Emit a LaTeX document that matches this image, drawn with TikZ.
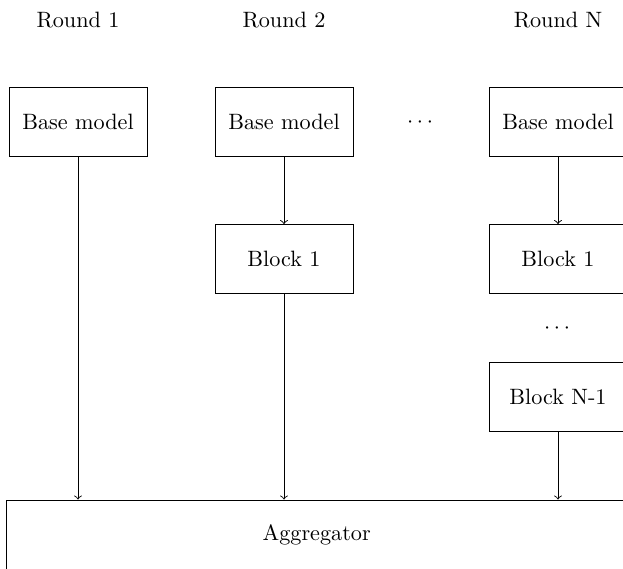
\documentclass[tikz,border=0pt]{standalone}
\begin{document}
\begin{tikzpicture}[x=0.4505pt, y=-0.4505pt,
  box/.style={draw, line width=0.4pt, minimum width=62.2pt, minimum height=31.1pt, inner sep=0pt},
  aggbox/.style={draw, line width=0.4pt, minimum width=279.2pt, minimum height=31.6pt, inner sep=0pt},
  lbl/.style={inner sep=0pt},
  flow/.style={->, line width=0.4pt}]
  \useasboundingbox (0,0) rectangle (623,568);

  % column headings
  \node[lbl] (r1) at (78,19.6) {Round 1};
  \node[lbl] (r2) at (284,19.6) {Round 2};
  \node[lbl] (rn) at (558,19.6) {Round N};

  % first row of base models
  \node[box] (b1) at (78,121.5) {Base model};
  \node[box] (b2) at (284,121.5) {Base model};
  \node[lbl] (hdots) at (420,122.5) {$\cdots$};
  \node[box] (bn) at (558,121.5) {Base model};

  % stacked blocks
  \node[box] (k21) at (284,259) {Block 1};
  \node[box] (kn1) at (558,259) {Block 1};
  \node[lbl] (vdots) at (557,329) {$\cdots$};
  \node[box] (knm) at (558,396.7) {Block N-1};

  % aggregator across all rounds
  \node[aggbox] (agg) at (316.7,535) {Aggregator};

  % connectors
  \draw[flow] (b2) -- (k21);
  \draw[flow] (bn) -- (kn1);
  \draw[flow] (b1.south) -- (b1.south |- agg.north);
  \draw[flow] (k21.south) -- (k21.south |- agg.north);
  \draw[flow] (knm.south) -- (knm.south |- agg.north);
\end{tikzpicture}
\end{document}
